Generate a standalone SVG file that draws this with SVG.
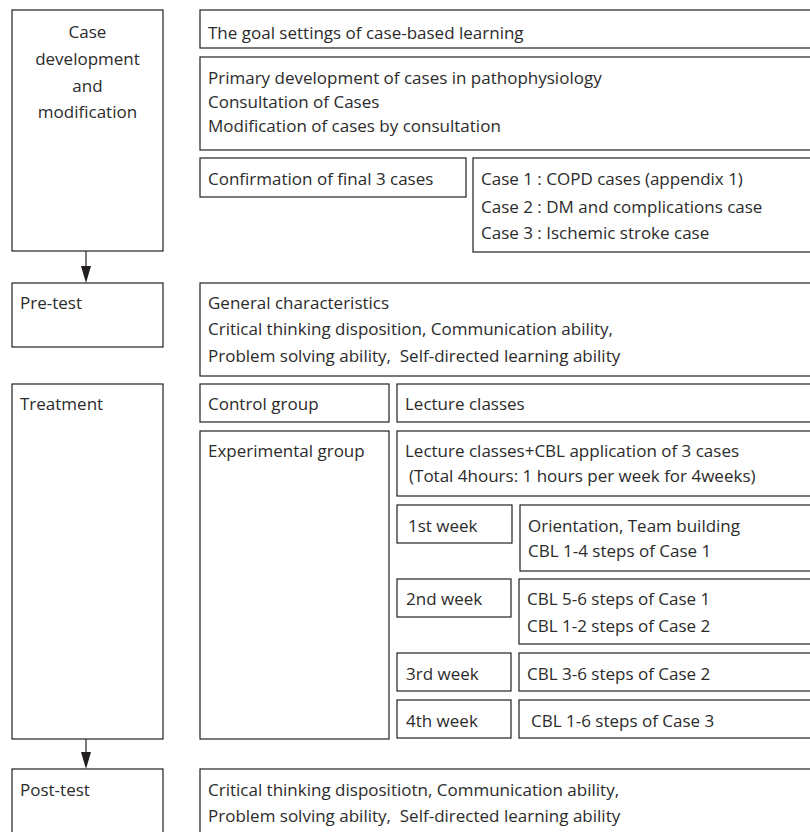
<svg xmlns="http://www.w3.org/2000/svg" width="810" height="832" viewBox="0 0 810 832">
<style>
  rect { fill: #ffffff; stroke: #231f20; stroke-width: 1.2; }
  text { font-family: "Open Sans", "Liberation Sans", sans-serif; font-size: 17px; fill: #2b2b2b; }
  .c { text-anchor: middle; }
  .conn line { stroke: #231f20; stroke-width: 1.2; }
  .conn polygon { fill: #231f20; }
</style>
<rect x="0" y="0" width="810" height="832" style="fill:#ffffff;stroke:none"/>

<g id="case-development">
  <rect x="12" y="10" width="151" height="241"/>
  <text class="c" x="87.5" y="38">Case</text>
  <text class="c" x="87.5" y="65">development</text>
  <text class="c" x="87.5" y="91.5">and</text>
  <text class="c" x="87.5" y="118">modification</text>
</g>
<g id="goal-settings">
  <rect x="200" y="10" width="620" height="38"/>
  <text x="208" y="38.5">The goal settings of case-based learning</text>
</g>
<g id="primary-development">
  <rect x="200" y="57" width="620" height="93"/>
  <text x="208" y="83.5">Primary development of cases in pathophysiology</text>
  <text x="208" y="107.5">Consultation of Cases</text>
  <text x="208" y="131.5">Modification of cases by consultation</text>
</g>
<g id="confirmation">
  <rect x="200" y="158" width="266" height="39"/>
  <text x="208" y="185">Confirmation of final 3 cases</text>
</g>
<g id="cases">
  <rect x="473" y="158" width="347" height="94"/>
  <text x="481" y="185">Case 1 : COPD cases (appendix 1)</text>
  <text x="481" y="212.5">Case 2 : DM and complications case</text>
  <text x="481" y="239">Case 3 : Ischemic stroke case</text>
</g>

<g id="pre-test">
  <rect x="12" y="283" width="151" height="64"/>
  <text x="20" y="308.5">Pre-test</text>
</g>
<g id="pre-test-measures">
  <rect x="200" y="283" width="620" height="93"/>
  <text x="208" y="308.5">General characteristics</text>
  <text x="208" y="335">Critical thinking disposition, Communication ability,</text>
  <text x="208" y="361.5">Problem solving ability,&#160; Self-directed learning ability</text>
</g>

<g id="treatment">
  <rect x="12" y="384" width="151" height="355"/>
  <text x="20" y="410">Treatment</text>
</g>
<g id="control-group">
  <rect x="200" y="384" width="189" height="38"/>
  <text x="208" y="410">Control group</text>
</g>
<g id="lecture-classes">
  <rect x="397" y="384" width="423" height="38"/>
  <text x="405" y="410">Lecture classes</text>
</g>
<g id="experimental-group">
  <rect x="200" y="431" width="189" height="308"/>
  <text x="208" y="457">Experimental group</text>
</g>
<g id="lecture-cbl">
  <rect x="397" y="431" width="423" height="65"/>
  <text x="405" y="457">Lecture classes+CBL application of 3 cases</text>
  <text x="409" y="482">(Total 4hours: 1 hours per week for 4weeks)</text>
</g>
<g id="week1">
  <rect x="397" y="505" width="115" height="38"/>
  <text x="408" y="531.5">1st week</text>
</g>
<g id="week1-content">
  <rect x="520" y="505" width="300" height="66"/>
  <text x="528" y="531.5">Orientation, Team building</text>
  <text x="528" y="557">CBL 1-4 steps of Case 1</text>
</g>
<g id="week2">
  <rect x="397" y="579" width="114" height="38"/>
  <text x="406" y="605">2nd week</text>
</g>
<g id="week2-content">
  <rect x="519" y="579" width="301" height="65"/>
  <text x="527" y="605">CBL 5-6 steps of Case 1</text>
  <text x="527" y="631.5">CBL 1-2 steps of Case 2</text>
</g>
<g id="week3">
  <rect x="397" y="653" width="114" height="38"/>
  <text x="406" y="679.5">3rd week</text>
</g>
<g id="week3-content">
  <rect x="519" y="653" width="301" height="38"/>
  <text x="527" y="679.5">CBL 3-6 steps of Case 2</text>
</g>
<g id="week4">
  <rect x="397" y="700" width="114" height="38"/>
  <text x="406" y="726.5">4th week</text>
</g>
<g id="week4-content">
  <rect x="519" y="700" width="301" height="38"/>
  <text x="531" y="726.5">CBL 1-6 steps of Case 3</text>
</g>

<g id="post-test">
  <rect x="12" y="769" width="151" height="80"/>
  <text x="20" y="796">Post-test</text>
</g>
<g id="post-test-measures">
  <rect x="200" y="769" width="620" height="80"/>
  <text x="208" y="796">Critical thinking dispositiotn, Communication ability,</text>
  <text x="208" y="821.5">Problem solving ability,&#160; Self-directed learning ability</text>
</g>

<g id="connectors" class="conn">
  <line x1="86" y1="251" x2="86" y2="267"/>
  <polygon points="81,266 91,266 86,283"/>
  <line x1="86" y1="739" x2="86" y2="753"/>
  <polygon points="81,752 91,752 86,769"/>
</g>
</svg>
